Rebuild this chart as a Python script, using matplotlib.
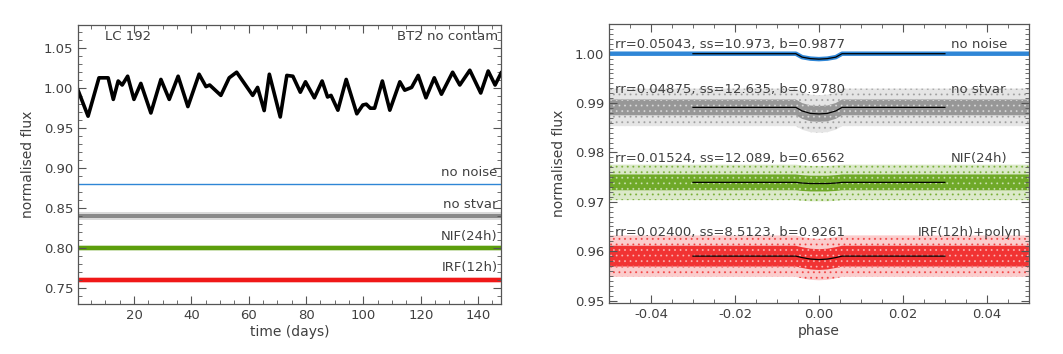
import matplotlib
matplotlib.use("Agg")
import matplotlib.pyplot as plt
from matplotlib.ticker import MultipleLocator

# ---- left panel: light curve (days, normalised flux)
lc_days = [0.5, 4.0, 7.8, 11.0, 12.8, 14.5, 15.9, 17.8, 20.0, 22.4, 25.9, 29.4,
           32.3, 35.4, 38.8, 42.7, 45.1, 46.4, 50.3, 53.2, 55.8, 61.4, 63.1,
           65.4, 67.2, 71.0, 73.3, 75.4, 78.0, 79.8, 82.9, 85.6, 87.5, 88.7,
           91.1, 94.0, 97.7, 99.8, 101.0, 102.4, 103.9, 106.6, 109.2, 112.7,
           114.4, 116.8, 119.1, 121.8, 124.7, 127.2, 131.1, 133.6, 137.1,
           140.9, 143.5, 145.9, 148.0]
lc_flux = [0.9975, 0.965, 1.013, 1.013, 0.986, 1.009, 1.004, 1.015, 0.986,
           1.006, 0.969, 1.011, 0.986, 1.015, 0.977, 1.0175, 1.002, 1.004,
           0.991, 1.013, 1.020, 0.991, 1.001, 0.972, 1.0175, 0.964, 1.016,
           1.015, 0.995, 1.008, 0.988, 1.009, 0.989, 0.991, 0.9725, 1.011,
           0.968, 0.979, 0.980, 0.975, 0.975, 1.009, 0.9725, 1.008, 0.9975,
           1.001, 1.016, 0.988, 1.013, 0.9925, 1.020, 1.004, 1.0225, 0.994,
           1.0215, 1.004, 1.019]

# offset versions: level, core noise and peak noise half-widths
lc_names = ["no noise", "no stvar", "NIF(24h)", "IRF(12h)"]
lc_levels = [0.880, 0.840, 0.800, 0.760]
lc_noise = [0.0003, 0.0028, 0.0020, 0.0026]
lc_noise_peak = [0.0003, 0.0050, 0.0035, 0.0042]
lc_label_y = [0.894, 0.855, 0.815, 0.7754]

# ---- right panel: folded transit
ph = [-0.05, -0.03, -0.0055, -0.004, -0.002, 0.0, 0.002, 0.004, 0.0055, 0.03, 0.05]
model_blue = [1.0000, 1.0000, 1.0000, 0.9993, 0.9990, 0.9989, 0.9990, 0.9993, 1.0000, 1.0000, 1.0000]
model_gray = [0.98913, 0.98913, 0.98913, 0.9884, 0.9879, 0.9878, 0.9879, 0.9884, 0.98913, 0.98913, 0.98913]
model_green = [0.97394, 0.97394, 0.97394, 0.9738, 0.9737, 0.9737, 0.9737, 0.9738, 0.97394, 0.97394, 0.97394]
model_red = [0.9590, 0.9590, 0.9590, 0.9587, 0.9584, 0.9583, 0.9584, 0.9587, 0.9590, 0.9590, 0.9590]
# scatter spread (core, outer) half-widths
spread_gray = (0.0016, 0.0038)
spread_green = (0.0016, 0.0036)
spread_red = (0.0021, 0.0042)
fit_text = ["rr=0.05043, ss=10.973, b=0.9877",
            "rr=0.04875, ss=12.635, b=0.9780",
            "rr=0.01524, ss=12.089, b=0.6562",
            "rr=0.02400, ss=8.5123, b=0.9261"]
fit_names = ["no noise", "no stvar", "NIF(24h)", "IRF(12h)+polyn"]
fit_text_y = [1.0018, 0.9928, 0.9788, 0.9638]
fit_name_x = [0.0448, 0.0445, 0.0448, 0.0483]

blue = "#2f86d6"
gray = "#8a8a8a"
green = "#5c9e0c"
red = "#f01818"
tcol = "#404040"
colors = [blue, gray, green, red]

plt.rcParams["font.family"] = "DejaVu Sans"
plt.rcParams["font.size"] = 9
plt.rcParams["hatch.linewidth"] = 0.7

fig = plt.figure(figsize=(10.63, 3.54), dpi=100)
ax1 = fig.add_axes([0.0734, 0.1412, 0.398, 0.788])
ax2 = fig.add_axes([0.5729, 0.144, 0.395, 0.788])


def idl_axes(ax):
    for s in ax.spines.values():
        s.set_color("#555555")
        s.set_linewidth(0.9)
    ax.tick_params(which="both", direction="in", top=True, right=True,
                   colors="#555555", labelcolor=tcol, labelsize=9.5)
    ax.tick_params(which="major", length=6)
    ax.tick_params(which="minor", length=3)
    ax.xaxis.label.set_color(tcol)
    ax.yaxis.label.set_color(tcol)


# left panel
ax1.plot(lc_days, lc_flux, color="black", lw=2.6)
for i in range(4):
    lvl = lc_levels[i]
    if i == 0:
        ax1.axhline(lvl, color=colors[i], lw=1.0)
    else:
        ax1.fill_between([0.5, 148], lvl - lc_noise_peak[i], lvl + lc_noise_peak[i],
                         color=colors[i], alpha=0.3, lw=0)
        ax1.fill_between([0.5, 148], lvl - lc_noise[i], lvl + lc_noise[i],
                         color=colors[i], lw=0)
    ax1.text(146.8, lc_label_y[i], lc_names[i], ha="right", va="center",
             color=tcol, fontsize=9.5)
ax1.text(9.9, 1.065, "LC 192", ha="left", va="center", color=tcol, fontsize=9.5)
ax1.text(146.8, 1.065, "BT2 no contam", ha="right", va="center", color=tcol, fontsize=9.5)
ax1.set_xlim(0.5, 148)
ax1.set_ylim(0.73, 1.079)
ax1.xaxis.set_minor_locator(MultipleLocator(5))
ax1.yaxis.set_major_locator(MultipleLocator(0.05))
ax1.yaxis.set_minor_locator(MultipleLocator(0.01))
ax1.set_xticks([20, 40, 60, 80, 100, 120, 140])
ax1.yaxis.set_major_formatter(plt.FormatStrFormatter("%.2f"))
ax1.set_xlabel("time (days)", fontsize=10, labelpad=2)
ax1.set_ylabel("normalised flux", fontsize=10, labelpad=6)
idl_axes(ax1)

# right panel
ax2.plot(ph, model_blue, color=blue, lw=3.2, zorder=2)
for model, spread, col in [(model_gray, spread_gray, gray),
                           (model_green, spread_green, green),
                           (model_red, spread_red, red)]:
    lo_out = [m - spread[1] for m in model]
    hi_out = [m + spread[1] for m in model]
    lo_in = [m - spread[0] for m in model]
    hi_in = [m + spread[0] for m in model]
    ax2.fill_between(ph, lo_out, hi_out, facecolor=col, alpha=0.22, lw=0, zorder=1)
    ax2.fill_between(ph, lo_out, hi_out, facecolor="none", edgecolor=col,
                     hatch="...", lw=0, alpha=0.6, zorder=1)
    ax2.fill_between(ph, lo_in, hi_in, facecolor=col, alpha=0.85, lw=0, zorder=1)
    ax2.fill_between(ph, lo_in, hi_in, facecolor="none", edgecolor="white",
                     hatch="...", lw=0, alpha=0.5, zorder=1)

inner = slice(1, len(ph) - 1)
for model in [model_blue, model_gray, model_green, model_red]:
    ax2.plot(ph[inner], model[inner], color="black", lw=0.9, zorder=3)

for i in range(4):
    ax2.text(-0.0485, fit_text_y[i], fit_text[i], ha="left", va="center",
             color=tcol, fontsize=9.5, zorder=4)
    ax2.text(fit_name_x[i], fit_text_y[i], fit_names[i], ha="right", va="center",
             color=tcol, fontsize=9.5, zorder=4)

ax2.set_xlim(-0.05, 0.05)
ax2.set_ylim(0.9495, 1.006)
ax2.xaxis.set_major_locator(MultipleLocator(0.02))
ax2.xaxis.set_minor_locator(MultipleLocator(0.005))
ax2.yaxis.set_major_locator(MultipleLocator(0.01))
ax2.yaxis.set_minor_locator(MultipleLocator(0.001))
ax2.xaxis.set_major_formatter(plt.FormatStrFormatter("%.2f"))
ax2.yaxis.set_major_formatter(plt.FormatStrFormatter("%.2f"))
ax2.set_xlabel("phase", fontsize=10, labelpad=2)
ax2.set_ylabel("normalised flux", fontsize=10, labelpad=6)
idl_axes(ax2)

fig.savefig("out.png", dpi=100)
